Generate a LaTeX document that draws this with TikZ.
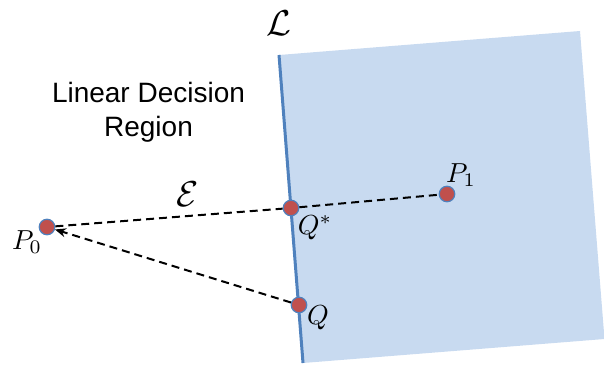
\documentclass[tikz,border=0pt]{standalone}
\usepackage{fontspec}
\newfontfamily\labelfont{Liberation Sans}
\usetikzlibrary{arrows.meta}
\definecolor{regionfill}{HTML}{C8DAF0}
\definecolor{lineblue}{HTML}{4F81BD}
\definecolor{dotred}{HTML}{C0504D}
\tikzset{
  dot/.style={circle, inner sep=0pt, minimum size=15.5pt, fill=dotred, draw=lineblue, line width=1.2pt},
  dashline/.style={dashed, dash pattern=on 8pt off 5pt, line width=2pt, black},
  mathlbl/.style={inner sep=0pt, scale=2.75},
  callbl/.style={inner sep=0pt, scale=3.6},
}
\begin{document}
\begin{tikzpicture}[x=1pt,y=-1pt]
\useasboundingbox (0,0) rectangle (604,366);
% region
\fill[regionfill] (279,55) -- (580,31) -- (604.5,339) -- (303,363) -- cycle;
\draw[lineblue, line width=3pt] (279,55) -- (303,363);
% points
\node[dot] (p0) at (47,227) {};
\node[dot] (qs) at (291,208) {};
\node[dot] (q)  at (299,305) {};
\node[dot] (p1) at (447,194) {};
% connectors
\draw[dashline] (p0) -- (qs) -- (p1);
\draw[dashline, -{Stealth[length=11pt,width=9pt]}] (q) -- (p0);
% labels
\node[mathlbl] (lp0) at (27,242) {$P_0$};
\node[mathlbl] (lp1) at (461,175) {$P_1$};
\node[mathlbl] (lqs) at (315,228) {$Q^*$};
\node[mathlbl] (lq)  at (318,318) {$Q$};
\node[callbl] (le) at (188,194) {$\mathcal{E}$};
\node[callbl] (ll) at (279,23) {$\mathcal{L}$};
\node[align=center, inner sep=0pt, font=\labelfont\fontsize{28}{34}\selectfont] (title) at (148.5,112) {Linear Decision\\Region};
\end{tikzpicture}
\end{document}
